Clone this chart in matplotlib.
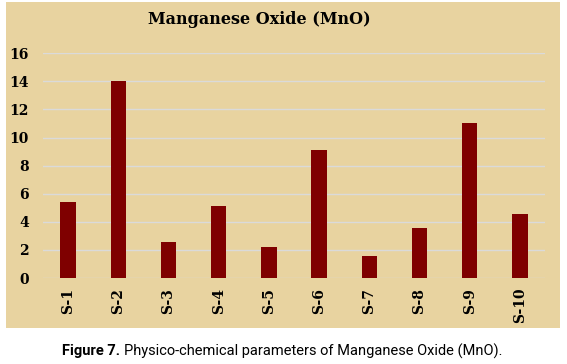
import matplotlib
matplotlib.use("Agg")
import matplotlib.pyplot as plt

categories = ["S-1", "S-2", "S-3", "S-4", "S-5", "S-6", "S-7", "S-8", "S-9", "S-10"]
values = [5.4, 14.0, 2.53, 5.14, 2.19, 9.1, 1.55, 3.55, 11.05, 4.55]
yticks = [0, 2, 4, 6, 8, 10, 12, 14, 16]

W, H = 567, 364
fig = plt.figure(figsize=(W / 100, H / 100), dpi=100)
fig.patch.set_facecolor("white")

# papyrus-like chart background panel
bgax = fig.add_axes([6 / W, 1 - 328 / H, (560 - 6) / W, (328 - 2) / H], zorder=0)
bgax.set_facecolor("#E8D3A0")
bgax.set_xticks([])
bgax.set_yticks([])
for s in bgax.spines.values():
    s.set_visible(False)

ax = fig.add_axes([43 / W, 1 - 278 / H, (545 - 43) / W, (278 - 53.3) / H], zorder=1)
ax.set_facecolor("none")
x = list(range(len(categories)))
ax.bar(x, values, width=0.31, color="#7F0000", zorder=3)
ax.set_xlim(-0.5, len(categories) - 0.5)
ax.set_ylim(0, 16)
ax.set_yticks(yticks)
ax.yaxis.grid(True, color="#DADADA", linewidth=1.0, zorder=1)
ax.set_axisbelow(True)
for s in ax.spines.values():
    s.set_visible(False)
ax.tick_params(axis="both", length=0)
ax.tick_params(axis="y", pad=10)
ax.tick_params(axis="x", pad=7)
ax.set_xticks(x)
ax.set_xticklabels(categories, rotation=90, va="top", ha="center")
for lab in ax.get_xticklabels() + ax.get_yticklabels():
    lab.set_fontfamily("DejaVu Serif")
    lab.set_fontweight("bold")
    lab.set_fontsize(10)
    lab.set_color("black")

fig.text(259 / W, 1 - 20 / H, "Manganese Oxide (MnO)", ha="center", va="center",
         fontfamily="DejaVu Serif", fontweight="bold", fontsize=11.5, color="black", zorder=3)

cap_y = 1 - 351 / H
t1 = fig.text(62 / W, cap_y, "Figure 7.", ha="left", va="center",
              fontfamily=["Liberation Sans Narrow", "Roboto", "DejaVu Sans"],
              fontweight="bold", fontsize=10.5, color="black")
fig.canvas.draw()
bb = t1.get_window_extent()
fig.text((bb.x1 + 4) / W, cap_y, "Physico-chemical parameters of Manganese Oxide (MnO).",
         ha="left", va="center",
         fontfamily=["Liberation Sans Narrow", "Roboto", "DejaVu Sans"],
         fontsize=10.5, color="black")

fig.savefig("out.png", dpi=100)
